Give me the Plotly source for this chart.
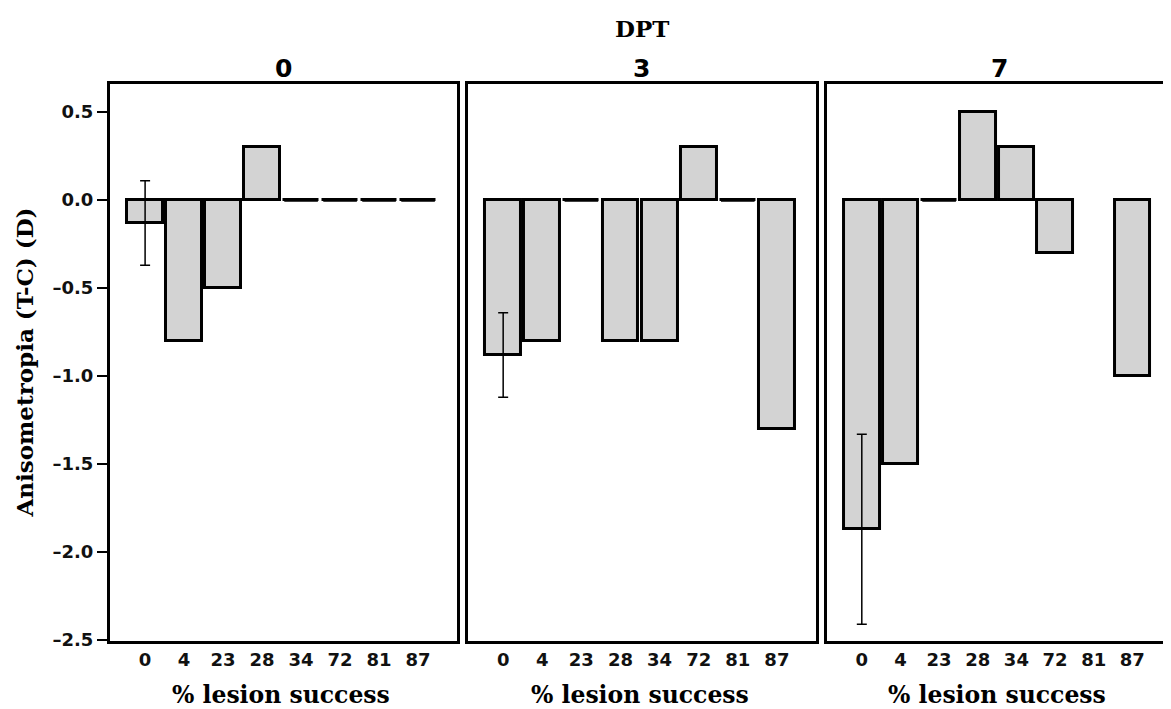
import plotly.graph_objects as go

# ---- data ----
categories = ["0", "4", "23", "28", "34", "72", "81", "87"]
dpt_labels = ["0", "3", "7"]
values_dpt0 = [-0.13, -0.80, -0.50, 0.30, 0.0, 0.0, 0.0, 0.0]
values_dpt3 = [-0.88, -0.80, 0.0, -0.80, -0.80, 0.30, 0.0, -1.30]
values_dpt7 = [-1.87, -1.50, 0.0, 0.50, 0.30, -0.30, None, -1.00]
err_dpt0 = [0.24, None, None, None, None, None, None, None]
err_dpt3 = [0.24, None, None, None, None, None, None, None]
err_dpt7 = [0.54, None, None, None, None, None, None, None]
y_tickvals = [0.5, 0.0, -0.5, -1.0, -1.5, -2.0, -2.5]
y_ticktext = ["0.5", "0.0", "–0.5", "–1.0", "–1.5", "–2.0", "–2.5"]

series = [values_dpt0, values_dpt3, values_dpt7]
errors = [err_dpt0, err_dpt3, err_dpt7]

# page body has an 8px margin, so the figure is sized/offset accordingly
W, H = 1163, 701
ML, MR, MT, MB = 102, 0, 76, 68
domains = [[0.0, 0.3271], [0.3374, 0.6654], [0.6758, 1.0]]

SANS = "DejaVu Sans"
SERIF = "DejaVu Serif"

fig = go.Figure()

for i, (vals, errs) in enumerate(zip(series, errors)):
    xa = "x" if i == 0 else f"x{i+1}"
    ya = "y" if i == 0 else f"y{i+1}"
    fig.add_trace(go.Bar(
        x=categories, y=vals, xaxis=xa, yaxis=ya,
        width=0.92,
        marker=dict(color="#d3d3d3", line=dict(color="black", width=3)),
        error_y=dict(type="data", array=errs, visible=True,
                     color="black", thickness=1.5, width=5),
        showlegend=False,
    ))
    zx = [c for c, v in zip(categories, vals) if v == 0]
    zy = [v for v in vals if v == 0]
    fig.add_trace(go.Scatter(
        x=zx, y=zy, xaxis=xa, yaxis=ya, mode="markers",
        marker=dict(symbol="line-ew", size=24, color="black",
                    line=dict(color="black", width=3)),
        showlegend=False, hoverinfo="skip",
    ))

layout = dict(
    width=W, height=H,
    margin=dict(l=ML, r=MR, t=MT, b=MB, pad=0),
    paper_bgcolor="white", plot_bgcolor="white",
    bargap=0,
)

for i in range(3):
    xk = "xaxis" if i == 0 else f"xaxis{i+1}"
    yk = "yaxis" if i == 0 else f"yaxis{i+1}"
    ya = "y" if i == 0 else f"y{i+1}"
    xa = "x" if i == 0 else f"x{i+1}"
    layout[xk] = dict(
        domain=domains[i], anchor=ya, type="category",
        categoryorder="array", categoryarray=categories,
        range=[-0.9, 8.0], showgrid=False, zeroline=False,
        showline=True, mirror=True, linecolor="black", linewidth=3,
        ticks="", tickfont=dict(family=SANS, size=18, color="#111", weight="bold"),
        fixedrange=True,
    )
    ydict = dict(
        domain=[0, 1], anchor=xa, range=[-2.505, 0.66],
        showgrid=False, zeroline=False,
        showline=True, mirror=(i < 2), linecolor="black", linewidth=3,
        tickvals=y_tickvals, ticktext=y_ticktext,
        fixedrange=True,
    )
    if i == 0:
        ydict.update(ticks="outside", ticklen=10, tickwidth=1.5, tickcolor="black",
                     tickfont=dict(family=SANS, size=18, color="#111", weight="bold"))
    else:
        ydict.update(ticks="", showticklabels=False)
    layout[yk] = ydict

annotations = []
for i, lab in enumerate(dpt_labels):
    cx = (domains[i][0] + domains[i][1]) / 2
    annotations.append(dict(
        text=f"<b>{lab}</b>", x=cx, y=1.027, xref="paper", yref="paper",
        xanchor="center", yanchor="middle", showarrow=False,
        font=dict(family=SANS, size=25, color="black"),
    ))
    annotations.append(dict(
        text="<b>% lesion success</b>", x=cx - 0.002, y=-0.097, xref="paper", yref="paper",
        xanchor="center", yanchor="middle", showarrow=False,
        font=dict(family=SERIF, size=23.5, color="black"),
    ))
annotations.append(dict(
    text="<b>DPT</b>", x=0.5014, y=1.1, xref="paper", yref="paper",
    xanchor="center", yanchor="middle", showarrow=False,
    font=dict(family=SERIF, size=23, color="black"),
))
annotations.append(dict(
    text="<b>Anisometropia (T-C) (D)</b>", x=-0.081, y=0.50, xref="paper", yref="paper",
    xanchor="center", yanchor="middle", showarrow=False, textangle=-90,
    font=dict(family=SERIF, size=23, color="black"),
))
layout["annotations"] = annotations

fig.update_layout(**layout)
fig.write_html("out.html")
